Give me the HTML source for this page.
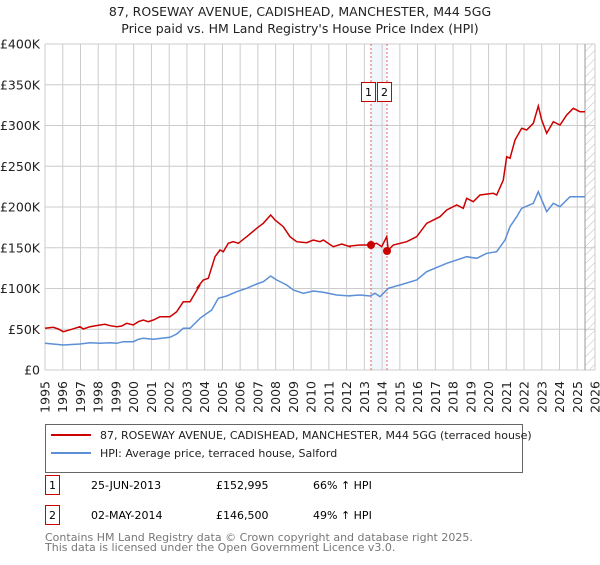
<!DOCTYPE html>
<html><head><meta charset="utf-8"><style>
body{margin:0;background:#fff;font-family:"Liberation Sans","DejaVu Sans",sans-serif;}
svg text{font-family:"DejaVu Sans","Liberation Sans",sans-serif;}
</style></head><body>
<svg id="s" width="600" height="560" xmlns="http://www.w3.org/2000/svg">
<defs><pattern id="h" width="6" height="6" patternUnits="userSpaceOnUse" patternTransform="rotate(45)"><line x1="0" y1="0" x2="0" y2="6" stroke="#bbb" stroke-width="1"/></pattern></defs>
<text x="300" y="16" text-anchor="middle" font-size="12.5" fill="#222">87, ROSEWAY AVENUE, CADISHEAD, MANCHESTER, M44 5GG</text>
<text x="300" y="33" text-anchor="middle" font-size="12.5" fill="#222">Price paid vs. HM Land Registry's House Price Index (HPI)</text>
<rect x="371" y="44" width="15" height="326" fill="#e8f0fc" opacity="0.6"/>
<rect x="585" y="44" width="10" height="326" fill="url(#h)"/>
<g id="grid"></g>
<line x1="585" y1="44" x2="585" y2="370" stroke="#999" stroke-width="1"/>
<line x1="371" y1="44" x2="371" y2="370" stroke="#e06060" stroke-dasharray="2,2" stroke-width="1"/>
<line x1="387" y1="44" x2="387" y2="370" stroke="#e06060" stroke-dasharray="2,2" stroke-width="1"/>
<rect x="361.5" y="82.5" width="14" height="19" fill="#fff" stroke="#c00"/>
<text x="368.5" y="96" text-anchor="middle" font-size="11">1</text>
<rect x="377.5" y="82.5" width="14" height="19" fill="#fff" stroke="#c00"/>
<text x="384.5" y="96" text-anchor="middle" font-size="11">2</text>
<polyline id="blue" fill="none" stroke="#5b8fd6" stroke-width="1.5"/>
<polyline id="red" fill="none" stroke="#cc0000" stroke-width="1.5"/>
<circle cx="371" cy="245" r="4" fill="#cc0000"/>
<circle cx="387" cy="251" r="4" fill="#cc0000"/>
<g id="lab"></g>
<rect x="45.5" y="424.5" width="477" height="48" fill="#fff" stroke="#666"/>
<line x1="51" y1="435" x2="91" y2="435" stroke="#cc0000" stroke-width="2"/>
<text x="100" y="439" font-size="11" fill="#222">87, ROSEWAY AVENUE, CADISHEAD, MANCHESTER, M44 5GG (terraced house)</text>
<line x1="51" y1="453" x2="91" y2="453" stroke="#5b8fd6" stroke-width="2"/>
<text x="100" y="457" font-size="11" fill="#222">HPI: Average price, terraced house, Salford</text>
<rect x="45.5" y="475.5" width="14" height="19" fill="#fff" stroke="#c00"/>
<text x="52.5" y="489" text-anchor="middle" font-size="11">1</text>
<text x="91" y="489" font-size="11">25-JUN-2013</text>
<text x="216" y="489" font-size="11">£152,995</text>
<text x="313" y="489" font-size="11">66% ↑ HPI</text>
<rect x="45.5" y="505.5" width="14" height="19" fill="#fff" stroke="#c00"/>
<text x="52.5" y="519" text-anchor="middle" font-size="11">2</text>
<text x="91" y="519" font-size="11">02-MAY-2014</text>
<text x="216" y="519" font-size="11">£146,500</text>
<text x="313" y="519" font-size="11">49% ↑ HPI</text>
<text x="45" y="541" font-size="11" fill="#777">Contains HM Land Registry data © Crown copyright and database right 2025.</text>
<text x="45" y="551" font-size="11" fill="#777">This data is licensed under the Open Government Licence v3.0.</text>
</svg>
<script>
var NS="http://www.w3.org/2000/svg",g=document.getElementById('grid'),lab=document.getElementById('lab');
function el(p,t,a,txt){var e=document.createElementNS(NS,t);for(var k in a)e.setAttribute(k,a[k]);if(txt)e.textContent=txt;p.appendChild(e);return e;}
var x0=45,x1=595,dx=(x1-x0)/31;
for(var i=0;i<=31;i++){var x=x0+i*dx;el(g,'line',{x1:x,y1:44,x2:x,y2:370,stroke:'#ccc','stroke-width':1});
var tx=x+4.5;el(lab,'text',{x:tx,y:381,'font-size':'12.5','text-anchor':'end',transform:'rotate(-90 '+tx+' 381)',fill:'#222'},String(1995+i));}
var ylab=['£0','£50K','£100K','£150K','£200K','£250K','£300K','£350K','£400K'];
for(var j=0;j<=8;j++){var y=370-j*40.75;el(g,'line',{x1:45,y1:y,x2:595,y2:y,stroke:'#ccc','stroke-width':1});
el(lab,'text',{x:40,y:y+4.5,'font-size':'12.5','text-anchor':'end',fill:'#222'},ylab[j]);}
function z1(a){return a.map(p=>[p[0]/3,30+p[1]/3]);}
function z4(a){return a.map(p=>[150+p[0]/3,190+p[1]/3]);}
function z2(a){return a.map(p=>[340+p[0]/3,30+p[1]/3]);}
var redA=z1([[135,895],[160,892],[175,897],[190,905],[215,898],[240,890],[250,897],[270,890],[300,885],[315,883],[330,887],[350,890],[365,888],[380,880],[400,885],[415,875],[430,870],[445,875],[460,870],[480,860],[510,860],[530,845],[550,815],[570,815],[585,790],[600,765]]);
var redB=z4([[140,295],[160,270],[175,265],[195,200],[210,180],[220,185],[235,160],[250,155],[265,160],[290,140],[320,115],[340,100],[362,75],[375,90],[400,110],[420,140],[440,155],[470,158],[490,150],[510,155],[520,150],[550,170],[575,162],[600,170]]);
var redC=z2([[30,648],[60,645],[90,645],[110,640],[125,650],[140,620],[145,660],[160,645],[200,635],[230,620],[260,580],[300,560],[320,540],[350,525],[370,535],[380,505],[400,515],[420,495],[460,490],[470,495],[490,450],[500,380],[510,385],[525,330],[545,295],[560,300],[580,280],[595,228],[605,270],[620,310],[640,275],[660,285],[680,255],[700,235],[720,245],[735,245]]);
var bA=z1([[135,940],[190,945],[240,942],[270,938],[300,940],[330,938],[350,940],[370,935],[400,935],[415,928],[430,925],[460,928],[510,922],[530,912],[550,895],[570,895],[600,865]]);
var bB=z4([[185,360],[205,325],[230,318],[260,305],[290,295],[320,282],[340,275],[362,258],[380,270],[410,285],[430,300],[460,310],[490,303],[520,307],[560,315],[600,318]]);
var bC=z2([[30,797],[60,795],[90,798],[105,790],[120,800],[145,775],[180,765],[230,750],[260,725],[320,700],[380,680],[410,685],[440,670],[470,665],[495,630],[510,590],[530,560],[545,535],[580,520],[595,485],[620,545],[640,520],[660,530],[690,500],[735,500]]);
function pts(a){return a.map(p=>p[0].toFixed(1)+','+p[1].toFixed(1)).join(' ');}
document.getElementById('red').setAttribute('points',pts(redA.concat(redB,redC)));
document.getElementById('blue').setAttribute('points',pts(bA.concat(bB,bC)));
</script>
</body></html>
